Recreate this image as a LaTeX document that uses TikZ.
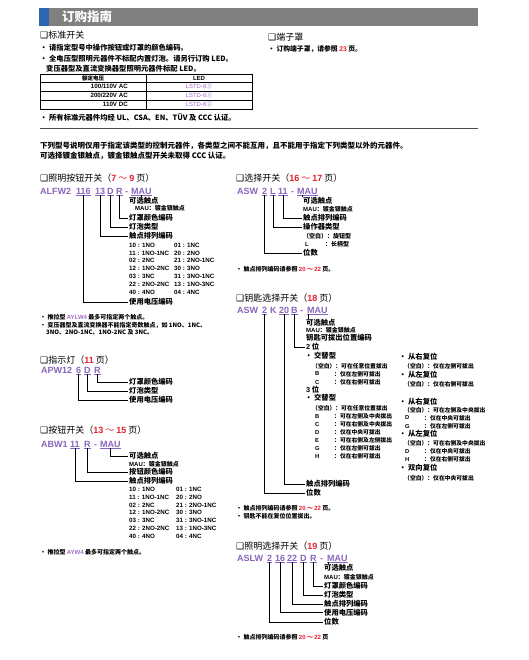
\documentclass[tikz,border=0pt]{standalone}
\usepackage{fontspec}
\setmainfont{Noto Sans CJK SC}
\newfontfamily\lat{Liberation Sans}
\newfontfamily\sym{DejaVu Sans}
\definecolor{codePurple}{HTML}{8866BB}
\definecolor{ledPurple}{HTML}{A46CC8}
\definecolor{pageRed}{HTML}{E2202C}
\definecolor{barGrey}{HTML}{808080}
\definecolor{barBlue}{HTML}{2C68B2}
\newcommand{\sqbox}{{\sym ❑}}
\newcommand{\pg}[1]{\textcolor{pageRed}{\lat\bfseries #1}}
\newcommand{\pgs}[2]{\textcolor{pageRed}{{\lat\bfseries #1} ～ {\lat\bfseries #2}}}
\newcommand{\gold}{{\lat\bfseries MAU}：镀金银触点}
\newcommand{\contactcodes}{10 : 1NO/01 : 1NC, 11 : 1NO-1NC/20 : 2NO, 02 : 2NC/21 : 2NO-1NC, 12 : 1NO-2NC/30 : 3NO, 03 : 3NC/31 : 3NO-1NC, 22 : 2NO-2NC/13 : 1NO-3NC, 40 : 4NO/04 : 4NC}
\tikzset{
  txt/.style={anchor=west, inner sep=0pt},
  headtxt/.style={txt, font=\fontsize{9}{10}\selectfont},
  bodytxt/.style={txt, font=\bfseries\fontsize{7.3}{8}\selectfont},
  notetxt/.style={txt, font=\bfseries\fontsize{6}{7}\selectfont},
  lbltxt/.style={txt, font=\bfseries\fontsize{7.3}{8}\selectfont},
  smalltxt/.style={txt, font=\bfseries\fontsize{5.8}{6.5}\selectfont},
  goldtxt/.style={txt, font=\bfseries\fontsize{6}{7}\selectfont},
  numtxt/.style={txt, font=\lat\bfseries\fontsize{6.2}{7}\selectfont},
  codeseg/.style={anchor=west, inner xsep=0pt, inner ysep=1pt, text=codePurple,
    text height=6.5pt, text depth=0pt,
    font=\lat\bfseries\fontsize{9}{10}\selectfont},
  uline/.style={draw=codePurple, line width=0.5pt},
  lead/.style={draw, line width=0.7pt, shorten >=1.5pt},
}
\begin{document}
\begin{tikzpicture}[x=1pt,y=-1pt]
  \useasboundingbox (0,0) rectangle (528,660);
  % header bar
  \fill[barGrey] (39,8) rectangle (478,26);
  \fill[barBlue] (39,8) rectangle (49,26);
  \node[txt, text=white, font=\bfseries\fontsize{12.5}{14}\selectfont] (hdr) at (62,17) {订购指南};

  % standard switches
  \node[headtxt] (tStd) at (40,35) {\sqbox 标准开关};
  \node[bodytxt] (bStd1) at (40,48) {• 请指定型号中操作按钮或灯罩的颜色编码。};
  \node[bodytxt] (bStd2) at (40,59) {• 全电压型照明元器件不标配内置灯泡。请另行订购 LED。};
  \node[bodytxt] (bStd3) at (46,69) {变压器型及直流变换器型照明元器件标配 LED。};
  \draw[line width=0.9pt] (40,74) rectangle (252,109);
  \draw[line width=0.9pt] (40,82) -- (252,82) (146,74) -- (146,109);
  \draw[line width=0.4pt] (40,91) -- (252,91) (40,100) -- (252,100);
  \node[txt, anchor=center, font=\bfseries\fontsize{5.5}{6}\selectfont] (thV) at (93,78) {额定电压};
  \node[txt, anchor=center, font=\lat\bfseries\fontsize{6}{7}\selectfont] (thL) at (199,78) {LED};
  \node[numtxt, anchor=east] (tv1) at (128,86.5) {100/110V AC};
  \node[numtxt, anchor=east] (tv2) at (128,95.5) {200/220V AC};
  \node[numtxt, anchor=east] (tv3) at (128,104.5) {110V DC};
  \foreach \y [count=\i] in {86.5,95.5,104.5}
    \node[txt, anchor=center, text=ledPurple, font=\fontsize{6}{7}\selectfont] (tl\i) at (199,\y) {{\lat LSTD-6}②};
  \node[bodytxt] (bStd4) at (40,117) {• 所有标准元器件均经 UL、CSA、EN、TÜV 及 CCC 认证。};
  \draw[line width=0.8pt, black!70] (40,128) -- (478,128);

  % terminal covers
  \node[headtxt] (tCov) at (268,37) {\sqbox 端子罩};
  \node[txt, font=\bfseries\fontsize{6.8}{7.5}\selectfont] (bCov) at (268,49) {• 订购端子罩，请参照 \pg{23} 页。};

  \node[txt, font=\bfseries\fontsize{7.5}{8}\selectfont] (mid1) at (40,146) {下列型号说明仅用于指定该类型的控制元器件，各类型之间不能互用，且不能用于指定下列类型以外的元器件。};
  \node[txt, font=\bfseries\fontsize{7.5}{8}\selectfont] (mid2) at (40,156) {可选择镀金银触点，镀金银触点型开关未取得 CCC 认证。};

  % illuminated pushbuttons
  \node[headtxt] (tAlfw) at (40,178) {\sqbox 照明按钮开关（\pgs{7}{9} 页）};
  \node[codeseg] (aBase) at (40,191) {ALFW2};
  \node[codeseg] (aVolt) at (76,191) {116};
  \node[codeseg] (aCont) at (95,191) {13};
  \node[codeseg] (aBulb) at (107,191) {D};
  \node[codeseg] (aLens) at (116,191) {R};
  \node[codeseg] (aDash) at (125,191) {-};
  \node[codeseg] (aMau) at (131,191) {MAU};
  \foreach \n in {aVolt,aCont,aBulb,aLens,aMau}
    \draw[uline] (\n.south west) -- (\n.south east);
  \node[lbltxt] (laOpt) at (129,201) {可选触点};
  \node[goldtxt] (laGold) at (135,208) {\gold};
  \node[lbltxt] (laLens) at (129,218) {灯罩颜色编码};
  \node[lbltxt] (laBulb) at (129,227) {灯泡类型};
  \node[lbltxt] (laCont) at (129,236) {触点排列编码};
  \foreach \l/\r [count=\i] in \contactcodes {
    \node[numtxt] (aL\i) at (129,{245+7.9*(\i-1)}) {\l};
    \node[numtxt] (aR\i) at (174,{245+7.9*(\i-1)}) {\r};
  }
  \node[lbltxt] (laVolt) at (129,302) {使用电压编码};
  \draw[line width=0.7pt] (aMau.south) -- (aMau.south |- laOpt.north);
  \draw[lead] (aLens.south) |- (laLens.west);
  \draw[lead] (aBulb.south) |- (laBulb.west);
  \draw[lead] (aCont.south) |- (laCont.west);
  \draw[lead] (aVolt.south) |- (laVolt.west);
  \node[notetxt] (nA1) at (40,317) {• 推拉型 \textcolor{ledPurple}{\lat AYLW4} 最多可指定两个触点。};
  \node[notetxt] (nA2) at (40,325) {• 变压器型及直流变换器不能指定奇数触点，如 1NO、1NC、};
  \node[notetxt] (nA3) at (46,332) {3NO、2NO-1NC、1NO-2NC 及 3NC。};

  % pilot lights
  \node[headtxt] (tApw) at (40,360) {\sqbox 指示灯（\pg{11} 页）};
  \node[codeseg] (pBase) at (41,370) {APW12};
  \node[codeseg] (pVolt) at (76,370) {6};
  \node[codeseg] (pBulb) at (84,370) {D};
  \node[codeseg] (pLens) at (94,370) {R};
  \foreach \n in {pVolt,pBulb,pLens}
    \draw[uline] (\n.south west) -- (\n.south east);
  \node[lbltxt] (lpLens) at (129,382) {灯罩颜色编码};
  \node[lbltxt] (lpBulb) at (129,391) {灯泡类型};
  \node[lbltxt] (lpVolt) at (129,400) {使用电压编码};
  \draw[lead] (pLens.south) |- (lpLens.west);
  \draw[lead] (pBulb.south) |- (lpBulb.west);
  \draw[lead] (pVolt.south) |- (lpVolt.west);

  % pushbuttons
  \node[headtxt] (tAbw) at (40,430) {\sqbox 按钮开关（\pgs{13}{15} 页）};
  \node[codeseg] (bBase) at (41,444) {ABW1};
  \node[codeseg] (bCont) at (70,444) {11};
  \node[codeseg] (bColor) at (84,444) {R};
  \node[codeseg] (bDash) at (94,444) {-};
  \node[codeseg] (bMau) at (100,444) {MAU};
  \foreach \n in {bCont,bColor,bMau}
    \draw[uline] (\n.south west) -- (\n.south east);
  \node[lbltxt] (lbOpt) at (129,456) {可选触点};
  \node[goldtxt] (lbGold) at (129,464) {\gold};
  \node[lbltxt] (lbColor) at (129,472) {按钮颜色编码};
  \node[lbltxt] (lbCont) at (129,481) {触点排列编码};
  \foreach \l/\r [count=\i] in \contactcodes {
    \node[numtxt] (bL\i) at (129,{489+7.95*(\i-1)}) {\l};
    \node[numtxt] (bR\i) at (176,{489+7.95*(\i-1)}) {\r};
  }
  \draw[lead] (bMau.south) |- (lbOpt.west);
  \draw[lead] (bColor.south) |- (lbColor.west);
  \draw[lead] (bCont.south) |- (lbCont.west);
  \node[notetxt] (nB1) at (40,552) {• 推拉型 \textcolor{ledPurple}{\lat AYW4} 最多可指定两个触点。};

  % selector switches
  \node[headtxt] (tAsw) at (236,178) {\sqbox 选择开关（\pgs{16}{17} 页）};
  \node[codeseg] (sBase) at (237,191) {ASW};
  \node[codeseg] (sPos) at (262,191) {2};
  \node[codeseg] (sType) at (270,191) {L};
  \node[codeseg] (sCont) at (278,191) {11};
  \node[codeseg] (sDash) at (291,191) {-};
  \node[codeseg] (sMau) at (297,191) {MAU};
  \foreach \n in {sPos,sType,sCont,sMau}
    \draw[uline] (\n.south west) -- (\n.south east);
  \node[lbltxt] (lsOpt) at (303,201) {可选触点};
  \node[goldtxt] (lsGold) at (303,209) {\gold};
  \node[lbltxt] (lsCont) at (303,218) {触点排列编码};
  \node[lbltxt] (lsType) at (303,227) {操作器类型};
  \node[goldtxt] (lsKnob) at (303,236) {（空白）：旋钮型};
  \node[goldtxt] (lsLk) at (305,244) {\lat\bfseries L};
  \node[goldtxt] (lsLever) at (325,244) {：长柄型};
  \node[lbltxt] (lsPos) at (303,253) {位数};
  \draw[line width=0.7pt] ([xshift=5pt]sMau.south west) -- ([xshift=5pt]sMau.south west |- lsOpt.north);
  \draw[lead] (sCont.south) |- (lsCont.west);
  \draw[lead] (sType.south) |- (lsType.west);
  \draw[lead] (sPos.south) |- (lsPos.west);
  \node[notetxt] (nS1) at (236,269) {• 触点排列编码请参照 \pgs{20}{22} 页。};

  % key selector switches
  \node[headtxt] (tKey) at (236,298) {\sqbox 钥匙选择开关（\pg{18} 页）};
  \node[codeseg] (kBase) at (237,310) {ASW};
  \node[codeseg] (kPos) at (262,310) {2};
  \node[codeseg] (kK) at (270,310) {K};
  \node[codeseg] (kCont) at (279,310) {20};
  \node[codeseg] (kKey) at (291,310) {B};
  \node[codeseg] (kDash) at (300,310) {-};
  \node[codeseg] (kMau) at (307,310) {MAU};
  \foreach \n in {kPos,kCont,kKey,kMau}
    \draw[uline] (\n.south west) -- (\n.south east);
  \node[lbltxt] (lkOpt) at (306,323) {可选触点};
  \node[goldtxt] (lkGold) at (306,330) {\gold};
  \node[lbltxt] (lkKey) at (306,338) {钥匙可拔出位置编码};
  \node[lbltxt] (lkTwo) at (306,347) {{\lat 2} 位};
  \node[lbltxt] (lkAlt2) at (305,356) {• 交替型};
  \node[smalltxt] (k2a) at (312,366) {（空白）：可在任意位置拔出};
  \foreach \k/\t [count=\i] in {B/：仅在左侧可拔出, C/：仅在右侧可拔出} {
    \node[smalltxt] (k2k\i) at (315,{374+8*(\i-1)}) {\lat\bfseries \k};
    \node[smalltxt] (k2t\i) at (334,{374+8*(\i-1)}) {\t};
  }
  \node[lbltxt] (lkThree) at (306,390) {{\lat 3} 位};
  \node[lbltxt] (lkAlt3) at (305,398) {• 交替型};
  \node[smalltxt] (k3a) at (312,408.5) {（空白）：可在任意位置拔出};
  \foreach \k/\t [count=\i] in {B/：可在左侧及中央拔出, C/：可在右侧及中央拔出, D/：仅在中央可拔出,
      E/：可在右侧及左侧拔出, G/：仅在左侧可拔出, H/：仅在右侧可拔出} {
    \node[smalltxt] (k3k\i) at (315,{416.5+7.9*(\i-1)}) {\lat\bfseries \k};
    \node[smalltxt] (k3t\i) at (334,{416.5+7.9*(\i-1)}) {\t};
  }
  \node[lbltxt] (lkR2) at (399,357) {• 从右复位};
  \node[smalltxt] (kr2) at (404,366) {（空白）：仅在左侧可拔出};
  \node[lbltxt] (lkL2) at (399,375) {• 从左复位};
  \node[smalltxt] (kl2) at (404,384) {（空白）：仅在右侧可拔出};
  \node[lbltxt] (lkR3) at (399,402) {• 从右复位};
  \node[smalltxt] (kr3) at (404,410) {（空白）：可在左侧及中央拔出};
  \node[smalltxt] (kr3k1) at (405,418) {\lat\bfseries D};
  \node[smalltxt] (kr3t1) at (424,418) {：仅在中央可拔出};
  \node[smalltxt] (kr3k2) at (405,426) {\lat\bfseries G};
  \node[smalltxt] (kr3t2) at (424,426) {：仅在左侧可拔出};
  \node[lbltxt] (lkL3) at (399,434) {• 从左复位};
  \node[smalltxt] (kl3) at (404,443) {（空白）：可在右侧及中央拔出};
  \node[smalltxt] (kl3k1) at (405,451) {\lat\bfseries D};
  \node[smalltxt] (kl3t1) at (424,451) {：仅在中央可拔出};
  \node[smalltxt] (kl3k2) at (405,459) {\lat\bfseries H};
  \node[smalltxt] (kl3t2) at (424,459) {：仅在右侧可拔出};
  \node[lbltxt] (lkBoth) at (399,468) {• 双向复位};
  \node[smalltxt] (kb3) at (404,478) {（空白）：仅在中央可拔出};
  \node[lbltxt] (lkCont) at (306,484) {触点排列编码};
  \node[lbltxt] (lkPos) at (306,493) {位数};
  \draw[line width=0.7pt] ([xshift=1pt]kMau.south west) -- ([xshift=1pt]kMau.south west |- lkOpt.north);
  \draw[lead] (kKey.south) |- (lkTwo.west);
  \draw[lead] (kCont.south) |- (lkCont.west);
  \draw[lead] (kPos.south) |- (lkPos.west);
  \node[notetxt] (nK1) at (236,508) {• 触点排列编码请参照 \pgs{20}{22} 页。};
  \node[notetxt] (nK2) at (236,516) {• 钥匙不能在复位位置拔出。};

  % illuminated selector switches
  \node[headtxt] (tAslw) at (236,546) {\sqbox 照明选择开关（\pg{19} 页）};
  \node[codeseg] (iBase) at (237,558) {ASLW};
  \node[codeseg] (iPos) at (267,558) {2};
  \node[codeseg] (iVolt) at (275,558) {16};
  \node[codeseg] (iCont) at (287,558) {22};
  \node[codeseg] (iBulb) at (300,558) {D};
  \node[codeseg] (iLens) at (310,558) {R};
  \node[codeseg] (iDash) at (320,558) {-};
  \node[codeseg] (iMau) at (327,558) {MAU};
  \foreach \n in {iPos,iVolt,iCont,iBulb,iLens,iMau}
    \draw[uline] (\n.south west) -- (\n.south east);
  \node[lbltxt] (liOpt) at (324,568) {可选触点};
  \node[goldtxt] (liGold) at (324,577) {\gold};
  \node[lbltxt] (liLens) at (324,586) {灯罩颜色编码};
  \node[lbltxt] (liBulb) at (324,595) {灯泡类型};
  \node[lbltxt] (liCont) at (324,604) {触点排列编码};
  \node[lbltxt] (liVolt) at (324,612.5) {使用电压编码};
  \node[lbltxt] (liPos) at (324,622) {位数};
  \draw[line width=0.7pt] ([xshift=1pt]iMau.south west) -- ([xshift=1pt]iMau.south west |- liOpt.north);
  \draw[lead] (iLens.south) |- (liLens.west);
  \draw[lead] (iBulb.south) |- (liBulb.west);
  \draw[lead] (iCont.south) |- (liCont.west);
  \draw[lead] (iVolt.south) |- (liVolt.west);
  \draw[lead] (iPos.south) |- (liPos.west);
  \node[notetxt] (nI1) at (236,637) {• 触点排列编码请参照 \pgs{20}{22} 页};
\end{tikzpicture}
\end{document}
